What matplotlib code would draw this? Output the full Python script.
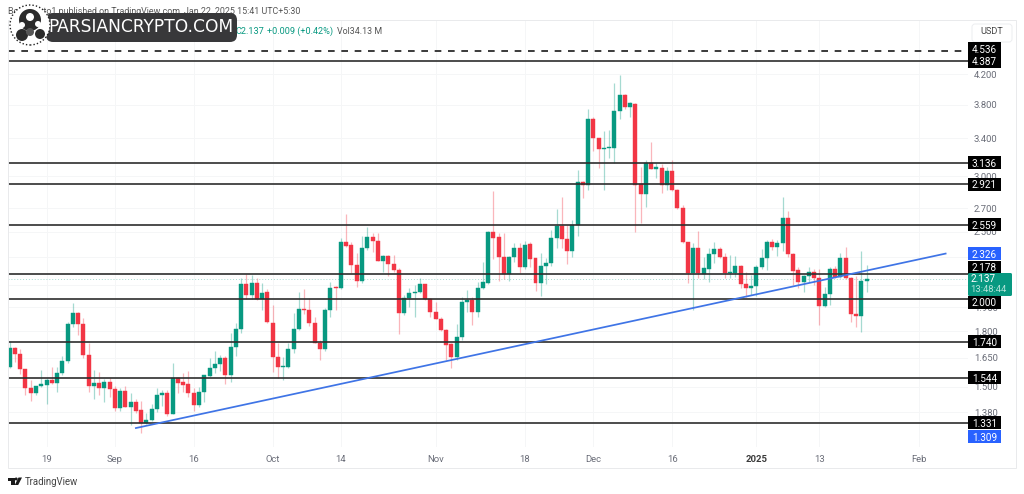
import matplotlib
matplotlib.use("Agg")
import matplotlib.pyplot as plt
from matplotlib.patches import Rectangle, Circle, FancyBboxPatch, Polygon
from matplotlib.transforms import IdentityTransform
from matplotlib.ticker import NullLocator, FixedLocator, FixedFormatter

plt.rcParams['font.family'] = ['Roboto', 'DejaVu Sans']

opens = [1.601,1.703,1.670,1.590,1.493,1.469,1.503,1.508,1.533,1.518,1.570,1.633,1.844,1.912,1.844,1.665,1.503,1.518,1.493,1.523,
1.488,1.398,1.478,1.403,1.426,1.389,1.331,1.344,1.393,1.459,1.469,1.371,1.544,1.523,1.513,1.469,1.412,1.473,1.554,1.596,
1.617,1.649,1.559,1.709,1.814,2.104,2.030,2.111,2.003,2.050,1.850,1.654,1.601,1.601,1.698,1.814,1.938,1.931,1.850,1.732,
1.698,1.931,2.084,2.077,2.416,2.392,2.240,2.125,2.368,2.457,2.424,2.270,2.307,2.248,2.203,1.912,2.010,2.043,2.050,2.104,
2.003,1.918,1.875,1.808,1.726,1.654,1.767,1.983,1.996,1.918,2.077,2.111,2.498,2.457,2.300,2.175,2.300,2.368,2.225,2.400,
2.292,2.111,2.233,2.255,2.449,2.548,2.440,2.345,2.556,2.944,2.915,3.624,3.404,3.283,3.294,3.294,3.720,3.923,3.770,3.807,
2.925,2.831,3.135,3.073,3.083,2.915,3.053,2.868,2.703,2.416,2.182,2.368,2.175,2.211,2.322,2.360,2.300,2.182,2.182,2.233,
2.104,2.077,2.091,2.225,2.292,2.416,2.376,2.408,2.615,2.322,2.203,2.118,2.160,2.189,2.146,1.957,2.036,2.211,2.153,2.292,
2.146,1.906,1.893,2.128]
closes = [1.703,1.670,1.590,1.493,1.469,1.503,1.513,1.533,1.518,1.570,1.633,1.844,1.912,1.844,1.665,1.503,1.518,1.493,1.523,1.488,
1.398,1.478,1.403,1.426,1.384,1.331,1.344,1.393,1.459,1.469,1.371,1.544,1.518,1.508,1.469,1.412,1.473,1.559,1.596,1.617,
1.649,1.559,1.709,1.814,2.104,2.030,2.111,2.003,2.043,1.856,1.654,1.601,1.606,1.698,1.814,1.938,1.931,1.850,1.732,1.698,
1.931,2.077,2.077,2.416,2.384,2.240,2.125,2.368,2.457,2.424,2.270,2.307,2.248,2.203,1.912,2.010,2.043,2.050,2.104,2.003,
1.918,1.875,1.808,1.720,1.654,1.767,1.983,1.996,1.918,2.077,2.118,2.498,2.449,2.300,2.175,2.300,2.368,2.225,2.392,2.285,
2.111,2.233,2.255,2.449,2.548,2.440,2.345,2.556,2.944,2.915,3.624,3.404,3.283,3.294,3.305,3.720,3.923,3.770,3.820,2.915,
2.831,3.135,3.073,3.094,2.915,3.053,2.868,2.703,2.416,2.182,2.368,2.182,2.218,2.322,2.360,2.300,2.182,2.189,2.233,2.104,
2.077,2.091,2.225,2.292,2.416,2.376,2.408,2.615,2.322,2.196,2.118,2.160,2.189,2.146,1.957,2.036,2.211,2.153,2.292,2.146,
1.906,1.893,2.125,2.137]
highs = [1.743,1.709,1.698,1.590,1.533,1.503,1.585,1.544,1.601,1.601,1.660,1.856,1.977,1.918,1.881,1.732,1.585,1.575,1.539,1.544,
1.503,1.493,1.503,1.469,1.440,1.430,1.375,1.417,1.493,1.483,1.483,1.622,1.549,1.570,1.580,1.493,1.498,1.559,1.649,1.687,
1.665,1.660,1.790,1.850,2.146,2.175,2.168,2.146,2.111,2.070,1.964,1.732,1.654,1.732,1.912,2.050,2.070,2.010,1.887,1.749,
1.944,2.118,2.091,2.449,2.650,2.416,2.330,2.465,2.539,2.490,2.490,2.315,2.315,2.315,2.218,2.030,2.077,2.097,2.146,2.104,
2.010,1.983,1.887,1.814,1.732,1.844,2.016,2.063,2.016,2.118,2.262,2.506,2.859,2.490,2.490,2.307,2.408,2.408,2.424,2.416,
2.292,2.330,2.292,2.514,2.694,2.803,2.556,2.598,3.063,2.953,3.745,3.648,3.404,3.483,3.495,4.080,4.189,3.935,3.833,3.820,
3.094,3.166,3.360,3.135,3.125,3.094,3.166,2.878,2.730,2.416,2.408,2.506,2.300,2.368,2.416,2.376,2.330,2.315,2.307,2.240,
2.189,2.168,2.240,2.360,2.432,2.440,2.432,2.803,2.676,2.330,2.225,2.168,2.225,2.211,2.211,2.084,2.225,2.233,2.330,2.376,
2.153,2.160,2.345,2.240]
lows = [1.596,1.627,1.564,1.459,1.430,1.459,1.498,1.417,1.513,1.473,1.559,1.622,1.826,1.779,1.649,1.473,1.440,1.459,1.426,1.449,
1.384,1.384,1.403,1.323,1.375,1.287,1.327,1.340,1.380,1.407,1.362,1.371,1.469,1.473,1.449,1.384,1.403,1.426,1.549,1.570,
1.580,1.513,1.523,1.660,1.790,2.003,2.003,1.996,1.931,1.850,1.575,1.544,1.533,1.596,1.676,1.808,1.906,1.832,1.732,1.638,
1.687,1.887,1.931,2.070,2.376,2.182,2.084,2.111,2.353,2.337,2.270,2.189,2.160,2.189,1.784,1.900,1.951,1.887,2.043,1.996,
1.887,1.875,1.802,1.638,1.596,1.638,1.749,1.918,1.838,1.887,2.070,2.104,2.285,2.125,2.139,2.125,2.262,2.182,2.211,2.225,
2.056,2.023,2.104,2.233,2.368,2.368,2.248,2.300,2.465,2.794,2.868,3.261,3.083,2.868,3.187,3.135,3.624,3.745,3.648,2.498,
2.572,2.712,3.073,2.984,2.840,2.868,2.859,2.694,2.408,2.111,1.931,2.146,2.139,2.118,2.255,2.292,2.146,2.146,2.153,2.077,
2.016,2.030,2.023,2.211,2.203,2.353,2.307,2.345,2.300,2.097,2.077,2.050,2.118,2.097,1.838,1.951,1.964,2.146,2.146,2.139,
1.856,1.826,1.796,2.050]

resistance_levels = [4.387, 3.136, 2.921, 2.559, 2.178, 2.000, 1.740, 1.544, 1.331]
dashed_level = 4.536
trend_x = [24, 178]
trend_y = [1.309, 2.326]
last_price = 2.137

y_ticks = [4.2, 3.8, 3.4, 3.0, 2.7, 2.5, 2.3, 2.1, 1.95, 1.8, 1.65, 1.5, 1.38]
y_tick_labels = ['4.200','3.800','3.400','3.000','2.700','2.500','','','1.950','1.800','1.650','1.500','1.380']
x_ticks = [7, 20, 35, 50, 63, 81, 98, 111, 126, 142, 154, 173]
x_tick_labels = ['19','Sep','16','Oct','14','Nov','18','Dec','16','2025','13','Feb']

W, H = 1024, 494
GREEN, RED = '#089981', '#F23645'
fig = plt.figure(figsize=(W/100, H/100), dpi=100, facecolor='white')
L, R, T, B = 8, 968, 20, 447
ax = fig.add_axes([L/W, 1-B/H, (R-L)/W, (B-T)/H])
ax.set_yscale('log')
for s in ax.spines.values():
    s.set_visible(False)

idx = list(range(len(opens)))
for i in idx:
    up = closes[i] >= opens[i]
    c = GREEN if up else RED
    ax.vlines(i, lows[i], highs[i], color=c, alpha=0.36, lw=0.9, zorder=2)
    lo, hi = min(opens[i], closes[i]), max(opens[i], closes[i])
    ax.bar(i, hi-lo, bottom=lo, width=0.76, color=c, lw=0.3, edgecolor=c, zorder=3)

for v in resistance_levels:
    ax.axhline(v, color='#2e2e2e', lw=1.2, zorder=4)
ax.axhline(dashed_level, color='#1a1a1a', lw=1.2, dashes=(4, 4), zorder=4)
ax.axhline(last_price, color=GREEN, lw=0.7, ls=(0, (1, 2)), alpha=0.35, zorder=1)
ax.plot(trend_x, trend_y, color='#3f74e6', lw=1.25, zorder=5)

ax.set_xlim((L-9.7)/5.258, (R-9.7)/5.258)
ax.set_ylim(4.387*2.71828**(-(B-61)/303.5), 4.387*2.71828**((61-T)/303.5))
ax.yaxis.tick_right()
ax.yaxis.set_major_locator(FixedLocator(y_ticks))
ax.yaxis.set_major_formatter(FixedFormatter(y_tick_labels))
ax.yaxis.set_minor_locator(NullLocator())
ax.set_xticks(x_ticks)
ax.set_xticklabels(x_tick_labels)
ax.tick_params(axis='both', length=0, labelsize=6.8, labelcolor='#6a6d78')
ax.tick_params(axis='y', pad=4.2)
ax.tick_params(axis='x', pad=5.5)
ax.get_xticklabels()[9].set_fontweight('bold')
ax.get_xticklabels()[9].set_color('#3a3a3a')
ax.grid(True, color='#f5f6f7', lw=0.7, zorder=0)
ax.set_axisbelow(True)

I = IdentityTransform()
def py(y):
    return H - y

fig.add_artist(Rectangle((8, py(468)), 1008, 448, fill=False, ec='#e9eaec', lw=0.7, transform=I, zorder=0.5))
fig.add_artist(FancyBboxPatch((972, py(42)), 40, 18, boxstyle='round,pad=0,rounding_size=3', fc='white', ec='#eceef0', lw=0.7, transform=I, zorder=1))
fig.text(992/W, 1-32/H, 'USDT', fontsize=6.6, color='#444444', ha='center', va='center', zorder=2)

z = 10
def tag(val, fc, nudge=0, h=13):
    global z
    y = ax.transData.transform((0, val))[1] - nudge
    fig.add_artist(Rectangle((968, y-h/2), 33, h, fc=fc, ec='none', transform=I, zorder=z))
    fig.text(984.5/W, y/H, f'{val:.3f}', color='white', fontsize=7.2, ha='center', va='center_baseline', zorder=z+0.5)
    z += 1

tag(dashed_level, '#000000', nudge=-2)
tag(4.387, '#000000')
tag(3.136, '#000000')
tag(2.921, '#000000')
tag(2.559, '#000000')
tag(2.326, '#2962FF')
tag(2.178, '#000000', nudge=-6.5)
tag(2.000, '#000000', nudge=3)
tag(1.740, '#000000')
tag(1.544, '#000000')
tag(1.309, '#2962FF', nudge=8.5)
tag(1.331, '#000000')

fig.add_artist(FancyBboxPatch((968, py(296)), 44, 23, boxstyle='round,pad=0,rounding_size=1.5', fc=GREEN, ec='none', transform=I, zorder=z))
fig.text(970.5/W, 1-279.5/H, '2.137', color='white', fontsize=7.2, va='center', zorder=z+1)
fig.text(970.5/W, 1-290/H, '13:48:44', color='#b5e3da', fontsize=6.8, va='center', zorder=z+1)

fig.text(8/W, 1-11.5/H, 'BeInCrypto1 published on TradingView.com, Jan 22, 2025 15:41 UTC+5:30', fontsize=6.4, color='#555555', va='center', zorder=2)
fig.text(236/W, 1-31.5/H, 'C2.137', fontsize=6.6, color=GREEN, va='center', zorder=2)
fig.text(267/W, 1-31.5/H, '+0.009 (+0.42%)', fontsize=6.6, color=GREEN, va='center', zorder=2)
fig.text(337/W, 1-31.5/H, 'Vol34.13 M', fontsize=6.4, color='#555555', va='center', zorder=2)

fig.add_artist(FancyBboxPatch((46, py(42)), 191, 29, boxstyle='round,pad=0,rounding_size=7', fc='#38383a', ec='none', transform=I, zorder=6))
fig.text(141/W, 1-26.5/H, 'PARSIANCRYPTO.COM', fontsize=12.3, color='white', ha='center', va='center', family='DejaVu Sans', zorder=7)
fig.add_artist(Circle((30, py(25)), 20, fc='white', ec='#222222', lw=1, ls=(0, (1, 1.5)), transform=I, zorder=8))
for cx, cy, r, col in [(30, 20, 11, '#2b2b2b'), (30, 17, 4, 'white'), (22, 25, 3, 'white'), (38, 24, 3, 'white'),
                       (22, 35, 6, '#2b2b2b'), (40, 34, 5, '#2b2b2b'), (30, 32, 4, '#555555')]:
    fig.add_artist(Circle((cx, py(cy)), r, fc=col, ec='none', transform=I, zorder=9))

fig.add_artist(Polygon([(8, py(477.5)), (14.5, py(477.5)), (14.5, py(485)), (11, py(485)), (11, py(480.5)), (8, py(480.5))], fc='#1a1a1a', ec='none', transform=I, zorder=2))
fig.add_artist(Circle((16.2, py(479)), 1.5, fc='#1a1a1a', ec='none', transform=I, zorder=2))
fig.add_artist(Polygon([(18.5, py(477.5)), (22, py(477.5)), (18.2, py(485)), (14.8, py(485))], fc='#1a1a1a', ec='none', transform=I, zorder=2))
fig.text(25/W, 1-481.5/H, 'TradingView', fontsize=6.9, color='#444444', va='center', zorder=2)

fig.savefig('out.png', dpi=100, facecolor='white')
